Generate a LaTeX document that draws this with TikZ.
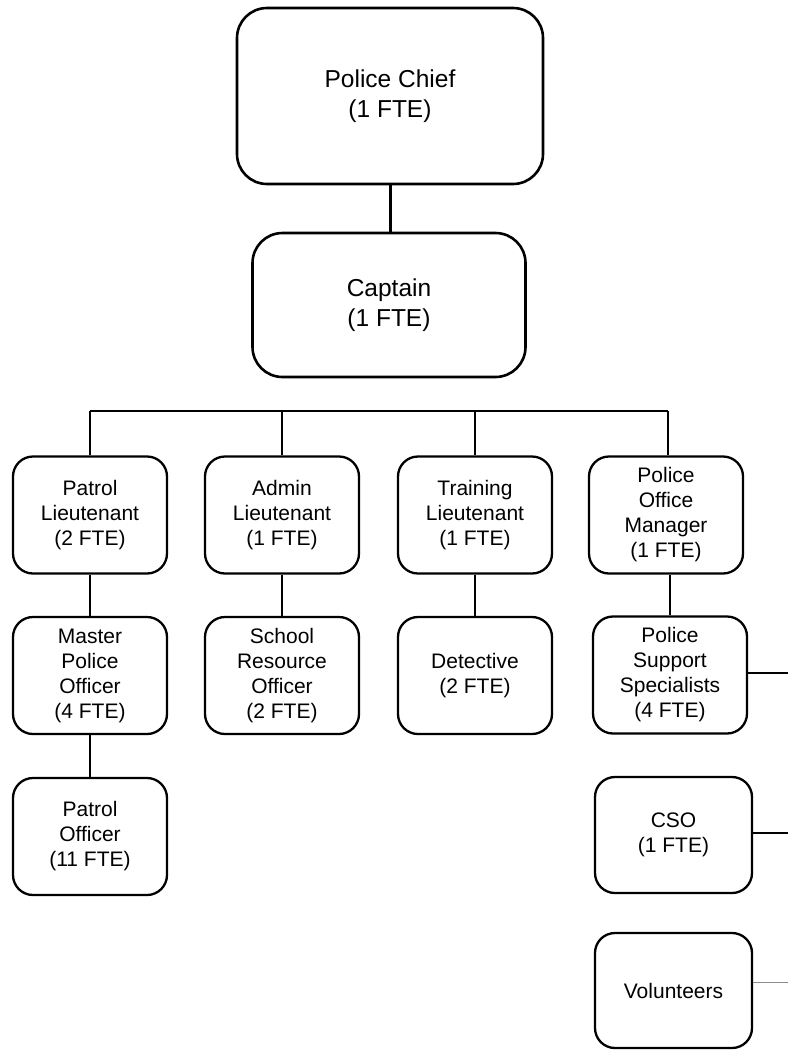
\documentclass[tikz,border=0pt]{standalone}
\usepackage{fontspec}
\setmainfont{Liberation Sans}
\begin{document}
\begin{tikzpicture}[x=1pt,y=-1pt,
  bigbox/.style={draw, line width=2.6pt, rounded corners=30pt, align=center,
    inner sep=0pt, font=\fontsize{24.5}{29.5}\selectfont},
  unitbox/.style={draw, line width=2.3pt, rounded corners=20pt, align=center,
    inner sep=0pt, minimum width=154pt, minimum height=117pt,
    font=\fontsize{21}{25}\selectfont},
  link/.style={line width=1.9pt},
  stub/.style={line width=1.5pt}]
\useasboundingbox (0,0) rectangle (788,1050);
\fill[white] (0,0) rectangle (788,1050);

% command staff
\node[bigbox, minimum width=306pt, minimum height=176pt] (chief) at (390,96)
  {Police Chief\\(1 FTE)};
\node[bigbox, minimum width=273pt, minimum height=144pt] (captain) at (389,305)
  {Captain\\(1 FTE)};

% lieutenants and office manager
\node[unitbox] (plt) at (90,515)  {Patrol\\Lieutenant\\(2 FTE)};
\node[unitbox] (alt) at (282,515) {Admin\\Lieutenant\\(1 FTE)};
\node[unitbox] (tlt) at (475,515) {Training\\Lieutenant\\(1 FTE)};
\node[unitbox] (pom) at (666,515) {Police\\Office\\Manager\\(1 FTE)};

% third row
\node[unitbox] (mpo) at (90,675.5)  {Master\\Police\\Officer\\(4 FTE)};
\node[unitbox] (sro) at (282,675.5) {School\\Resource\\Officer\\(2 FTE)};
\node[unitbox] (det) at (475,675.5) {Detective\\(2 FTE)};
\node[unitbox] (pss) at (670,675)   {Police\\Support\\Specialists\\(4 FTE)};

% fourth row and below
\node[unitbox] (po)  at (90,836.5) {Patrol\\Officer\\(11 FTE)};
\node[unitbox, minimum width=157pt, minimum height=116pt] (cso) at (673.5,835)
  {CSO\\(1 FTE)};
\node[unitbox, minimum width=157pt, minimum height=115pt] (vol) at (673.5,990.5)
  {Volunteers};

% connectors
\draw[line width=3pt] (chief.south) -- (chief.south |- captain.north);

\coordinate (busL) at (90,411);
\coordinate (busR) at (668,411);
\draw[link] (busL) -- (busR);
\draw[link] (plt.north) -- (plt.north |- busL);
\draw[link] (alt.north) -- (alt.north |- busL);
\draw[link] (tlt.north) -- (tlt.north |- busL);
\draw[link] (busR) -- (busR |- pom.north);

\draw[link] (plt.south) -- (mpo.north);
\draw[link] (mpo.south) -- (po.north);
\draw[link] (alt.south) -- (sro.north);
\draw[link] (tlt.south) -- (det.north);
\draw[link] (pss.north) -- (pss.north |- pom.south);

% lines running off to the right
\coordinate (edge) at (788,0);
\draw[stub] ([yshift=2pt]pss.east) -- ([yshift=2pt]pss.east -| edge);
\draw[stub] ([yshift=2pt]cso.east) -- ([yshift=2pt]cso.east -| edge);
\draw[stub, black!45] ([yshift=8pt]vol.east) -- ([yshift=8pt]vol.east -| edge);
\end{tikzpicture}
\end{document}
